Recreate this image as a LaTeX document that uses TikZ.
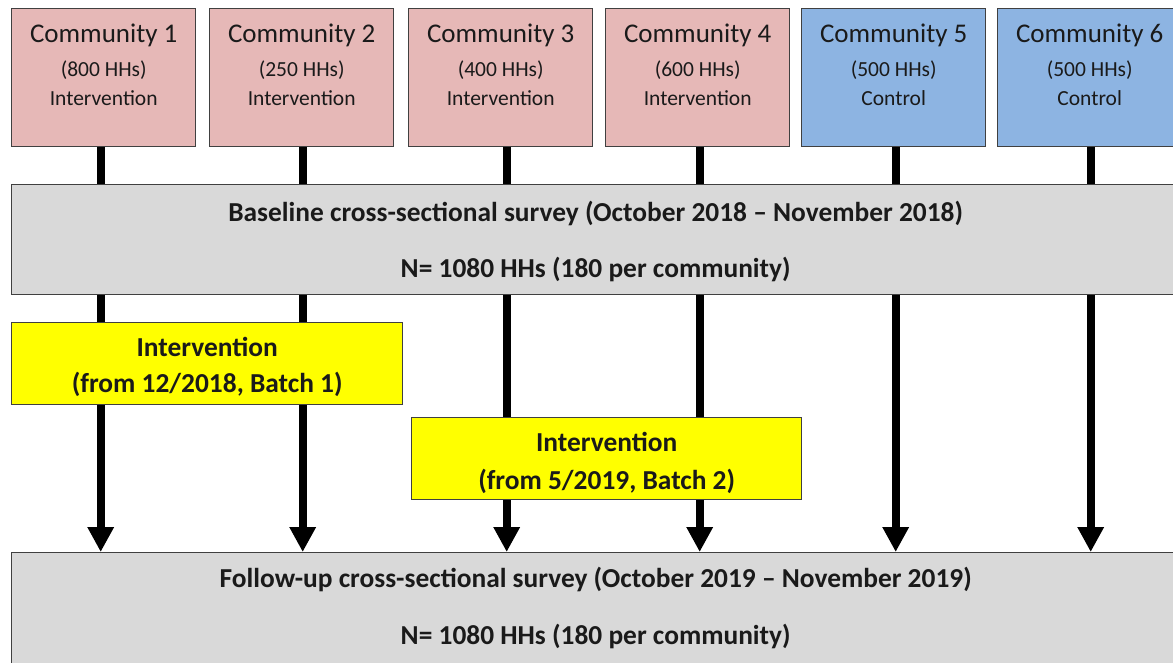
\documentclass[tikz,border=0pt]{standalone}
\usepackage{fontspec}
\setmainfont{Carlito}
\usetikzlibrary{arrows.meta}
\definecolor{pinkfill}{HTML}{E6B8B7}
\definecolor{bluefill}{HTML}{8DB4E2}
\definecolor{grayfill}{HTML}{D9D9D9}
\definecolor{yellowfill}{HTML}{FFFF00}
\definecolor{edgecol}{HTML}{404040}
\definecolor{textcol}{HTML}{1A1A1A}
\tikzset{
  box/.style={draw=edgecol, line width=1.4pt, inner sep=0pt, anchor=north west},
  commbox/.style={box, minimum width=184pt, minimum height=138pt},
  widebox/.style={box, fill=grayfill, minimum width=1168pt},
  intbox/.style={box, fill=yellowfill, minimum height=82pt},
  titletext/.style={anchor=base, text=textcol, font=\fontsize{27}{32}\selectfont},
  subtext/.style={anchor=base, text=textcol, font=\fontsize{21.5}{26}\selectfont},
  boldtext/.style={anchor=base, text=textcol, font=\bfseries\fontsize{27.4}{32}\selectfont},
  conn/.style={line width=8pt, black},
  arrowconn/.style={conn, -{Triangle[width=25pt,length=25pt]}}
}
\begin{document}
\begin{tikzpicture}[x=1pt,y=-1pt]
\useasboundingbox (0,0) rectangle (1173,662);
\clip (0,0) rectangle (1173,662);
% community boxes
\foreach \i/\xl/\dx/\hh/\kind/\col in {1/11/-3/800/Intervention/pinkfill,
  2/209/1/250/Intervention/pinkfill, 3/408/6/400/Intervention/pinkfill,
  4/605/2/600/Intervention/pinkfill, 5/801/2/500/Control/bluefill,
  6/997/1/500/Control/bluefill}{
  \node[commbox, fill=\col] (c\i) at (\xl,8) {};
  \node[titletext] (c\i-a) at ([yshift=-34pt]c\i.north) {Community \i};
  \node[subtext] (c\i-b) at ([yshift=-68pt]c\i.north) {(\hh{} HHs)};
  \node[subtext] (c\i-c) at ([yshift=-97pt]c\i.north) {\kind};
  \coordinate (t\i) at ([xshift=\dx pt]c\i.south);
}
% survey boxes
\node[widebox, minimum height=110pt] (base) at (11,184) {};
\node[boldtext] (base-a) at ([yshift=-37pt]base.north) {Baseline cross-sectional survey (October 2018 -- November 2018)};
\node[boldtext] (base-b) at ([yshift=-93pt]base.north) {N= 1080 HHs (180 per community)};
\node[widebox, minimum height=140pt] (follow) at (11,552) {};
\node[boldtext] (follow-a) at ([yshift=-35pt]follow.north) {Follow-up cross-sectional survey (October 2019 -- November 2019)};
\node[boldtext] (follow-b) at ([yshift=-92pt]follow.north) {N= 1080 HHs (180 per community)};
% connectors
\foreach \i in {1,...,6}{
  \draw[conn] (t\i) -- (t\i |- base.north);
  \draw[arrowconn] (t\i |- base.south) -- (t\i |- follow.north);
}
% intervention boxes (drawn over the connectors)
\node[intbox, minimum width=391pt] (int1) at (11,322) {};
\node[boldtext] (int1-a) at ([yshift=-34pt]int1.north) {Intervention};
\node[boldtext] (int1-b) at ([yshift=-70pt]int1.north) {(from 12/2018, Batch 1)};
\node[intbox, minimum width=390pt] (int2) at (411,417) {};
\node[boldtext] (int2-a) at ([yshift=-34pt]int2.north) {Intervention};
\node[boldtext] (int2-b) at ([yshift=-72pt]int2.north) {(from 5/2019, Batch 2)};
\end{tikzpicture}
\end{document}
